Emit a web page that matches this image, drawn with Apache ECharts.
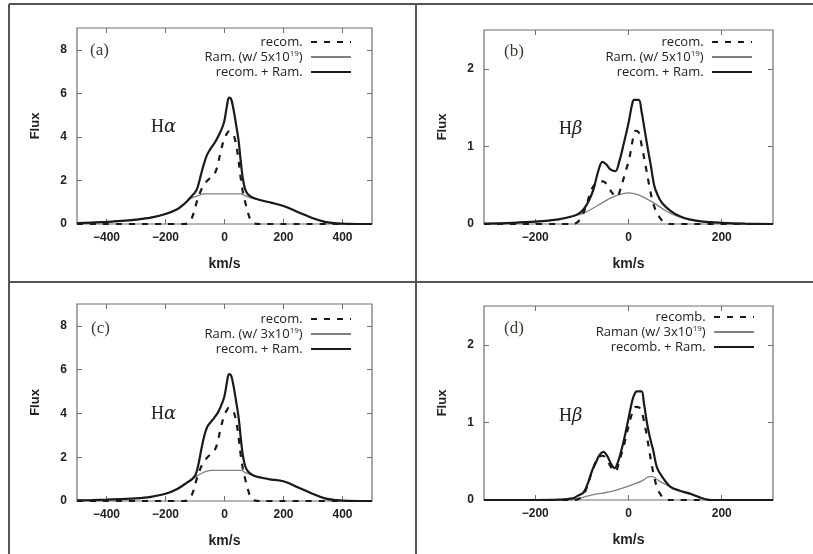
<!DOCTYPE html>
<html>
<head>
<meta charset="utf-8">
<script src="https://cdn.jsdelivr.net/npm/echarts@6/dist/echarts.min.js"></script>
<style>
  html, body { margin: 0; padding: 0; background: #fff; }
  #chart { width: 813px; height: 554px; }
</style>
</head>
<body>
<div id="chart"></div>
<script>
// Line-profile panels: recombination, Raman-scattered and combined flux vs velocity.
// Each array holds [velocity (km/s), flux] samples.

// (a) H-alpha, column 5x10^19
const recA = [[-500,0],[-140,0],[-126,0.02],[-110,0.3],[-92,1.1],[-78,1.6],[-64,1.9],[-50,2.1],[-36,2.26],[-25,2.6],[-15,3.2],[-2,3.87],[8,4.15],[15,4.25],[25,4.2],[32,4.05],[40,3.6],[47,3.0],[54,2.2],[62,1.5],[71,0.96],[80,0.5],[88,0.2],[100,0.03],[120,0],[500,0]];
const ramA = [[-500,0.04],[-450,0.06],[-400,0.1],[-350,0.14],[-300,0.2],[-250,0.29],[-200,0.46],[-160,0.68],[-140,0.88],[-126,1.08],[-110,1.2],[-90,1.3],[-70,1.38],[55,1.38],[70,1.3],[90,1.2],[120,1.1],[160,0.97],[200,0.83],[250,0.54],[300,0.26],[340,0.1],[380,0.03],[420,0.01],[500,0]];
const totA = [[-500,0.04],[-450,0.06],[-400,0.1],[-350,0.14],[-300,0.2],[-250,0.29],[-200,0.46],[-160,0.68],[-140,0.88],[-126,1.06],[-110,1.3],[-100,1.45],[-92,1.65],[-81,2.2],[-70,2.75],[-60,3.15],[-50,3.4],[-40,3.6],[-28,3.85],[-15,4.2],[-2,4.65],[8,5.4],[15,5.8],[22,5.75],[30,5.3],[40,4.5],[48,3.8],[55,2.9],[62,2.1],[70,1.6],[80,1.35],[95,1.22],[120,1.1],[160,0.97],[200,0.83],[250,0.54],[300,0.26],[340,0.1],[380,0.03],[420,0.01],[500,0]];

// (b) H-beta, column 5x10^19
const recB = [[-310,0],[-120,0],[-110,0.02],[-100,0.1],[-90,0.25],[-78,0.46],[-65,0.54],[-55,0.55],[-45,0.5],[-35,0.4],[-25,0.35],[-15,0.5],[-5,0.7],[2,0.85],[8,1.05],[15,1.2],[22,1.18],[28,1.02],[37,0.74],[45,0.48],[51,0.31],[58,0.18],[65,0.1],[75,0.03],[90,0],[310,0]];
const ramB = [[-310,0.005],[-250,0.015],[-200,0.03],[-150,0.06],[-120,0.1],[-100,0.13],[-80,0.19],[-60,0.26],[-40,0.33],[-20,0.38],[0,0.4],[20,0.38],[40,0.32],[60,0.25],[80,0.17],[100,0.11],[130,0.06],[160,0.03],[200,0.015],[250,0.005],[310,0]];
const totB = [[-310,0.005],[-250,0.015],[-200,0.03],[-150,0.06],[-120,0.1],[-105,0.14],[-95,0.2],[-85,0.3],[-75,0.45],[-65,0.68],[-56,0.8],[-48,0.77],[-38,0.7],[-28,0.68],[-20,0.8],[-10,1.04],[0,1.3],[8,1.55],[12,1.6],[22,1.6],[28,1.45],[35,1.2],[42,0.95],[48,0.75],[55,0.5],[62,0.38],[72,0.27],[90,0.17],[110,0.1],[130,0.06],[160,0.03],[200,0.015],[250,0.005],[310,0]];

// (c) H-alpha, column 3x10^19
const recC = [[-500,0],[-140,0],[-126,0.02],[-110,0.3],[-92,1.1],[-78,1.6],[-64,1.9],[-50,2.1],[-36,2.26],[-25,2.6],[-15,3.2],[-2,3.87],[8,4.15],[15,4.25],[25,4.2],[32,4.05],[40,3.6],[47,3.0],[54,2.2],[62,1.5],[71,0.96],[80,0.5],[88,0.2],[100,0.03],[120,0],[500,0]];
const ramC = [[-500,0.03],[-450,0.04],[-400,0.06],[-350,0.09],[-300,0.12],[-250,0.19],[-200,0.33],[-160,0.55],[-126,0.85],[-110,1.0],[-90,1.17],[-75,1.28],[-60,1.36],[-45,1.4],[55,1.4],[70,1.3],[100,1.15],[150,1.0],[200,0.9],[250,0.62],[300,0.32],[340,0.12],[380,0.04],[420,0.01],[500,0]];
const totC = [[-500,0.03],[-450,0.04],[-400,0.06],[-350,0.09],[-300,0.12],[-250,0.19],[-200,0.33],[-160,0.55],[-126,0.85],[-110,1.0],[-98,1.2],[-88,1.7],[-78,2.4],[-68,3.0],[-58,3.4],[-48,3.58],[-35,3.8],[-22,4.05],[-10,4.4],[0,4.8],[8,5.4],[15,5.8],[22,5.75],[30,5.3],[40,4.5],[48,3.8],[55,2.9],[62,2.1],[70,1.6],[80,1.35],[100,1.15],[150,1.0],[200,0.9],[250,0.62],[300,0.32],[340,0.12],[380,0.04],[420,0.01],[500,0]];

// (d) H-beta, column 3x10^19
const recD = [[-310,0],[-120,0],[-105,0.02],[-95,0.08],[-85,0.25],[-75,0.42],[-65,0.55],[-55,0.57],[-45,0.5],[-35,0.4],[-28,0.37],[-20,0.5],[-10,0.7],[0,0.95],[8,1.12],[16,1.2],[25,1.18],[32,1.05],[40,0.8],[45,0.62],[50,0.45],[55,0.3],[62,0.15],[70,0.06],[80,0.01],[90,0],[310,0]];
const ramD = [[-310,0],[-130,0],[-110,0.01],[-95,0.04],[-75,0.07],[-54,0.09],[-30,0.12],[-10,0.16],[10,0.2],[30,0.25],[45,0.3],[52,0.3],[60,0.27],[70,0.23],[90,0.17],[110,0.12],[130,0.08],[150,0.04],[165,0.01],[180,0],[310,0]];
const totD = [[-310,0],[-200,0],[-150,0.005],[-120,0.02],[-110,0.05],[-96,0.1],[-85,0.25],[-78,0.38],[-71,0.47],[-62,0.58],[-54,0.62],[-45,0.56],[-37,0.46],[-30,0.41],[-22,0.5],[-10,0.77],[0,1.05],[8,1.28],[14,1.38],[18,1.4],[28,1.4],[33,1.25],[40,0.98],[47,0.78],[53,0.64],[61,0.42],[72,0.3],[90,0.17],[110,0.12],[133,0.08],[150,0.04],[165,0.01],[180,0],[310,0]];

// Axis ranges and tick values
const alphaX = { min: -500, max: 500, ticks: [-400, -200, 0, 200, 400] };
const betaX = { min: -310, max: 310, ticks: [-200, 0, 200] };
const alphaY = { min: 0, max: 9, ticks: [0, 2, 4, 6, 8] };
const betaY = { min: 0, max: 2.5, ticks: [0, 1, 2] };

// Legend entries per panel
const namesA = ['recom.', 'Ram. (w/ 5x10{sup|19})', 'recom. + Ram.'];
const namesC = ['recom.', 'Ram. (w/ 3x10{sup|19})', 'recom. + Ram.'];
const namesD = ['recomb.', 'Raman (w/ 3x10{sup|19})', 'recomb. + Ram.'];

const panels = [
  { grid: { left: 77, top: 28, width: 295, height: 196 }, x: alphaX, y: alphaY,
    rec: recA, ram: ramA, tot: totA, names: namesA, legend: { right: 461, top: 35 },
    tag: '(a)', tagPos: [90, 52], line: 'α', linePos: [151, 128] },
  { grid: { left: 484, top: 30, width: 289, height: 194 }, x: betaX, y: betaY,
    rec: recB, ram: ramB, tot: totB, names: namesA, legend: { right: 60, top: 35 },
    tag: '(b)', tagPos: [504, 53], line: 'β', linePos: [559, 130] },
  { grid: { left: 77, top: 304, width: 295, height: 197 }, x: alphaX, y: alphaY,
    rec: recC, ram: ramC, tot: totC, names: namesC, legend: { right: 461, top: 312 },
    tag: '(c)', tagPos: [91, 330], line: 'α', linePos: [151, 415] },
  { grid: { left: 484, top: 306, width: 289, height: 194 }, x: betaX, y: betaY,
    rec: recD, ram: ramD, tot: totD, names: namesD, legend: { right: 58, top: 310 },
    tag: '(d)', tagPos: [504, 330], line: 'β', linePos: [559, 417] }
];

const FRAME = '#6f6f6f';
const INK = '#1a1a1a';
const tickFont = { color: '#222', fontSize: 12, fontWeight: 'bold', fontFamily: 'Liberation Sans' };
const minusFmt = v => (v < 0 ? '\u2212' + Math.abs(v) : String(v));

const grids = [], xAxes = [], yAxes = [], series = [], legends = [], graphics = [];

panels.forEach((p, i) => {
  grids.push(Object.assign({ show: true, borderColor: FRAME, borderWidth: 1.2, backgroundColor: '#fff' }, p.grid));

  const tickInside = (vals) => ({ show: true, inside: true, length: 5, customValues: vals, lineStyle: { color: FRAME, width: 1 } });
  const noLine = { show: false, onZero: false };

  xAxes.push({
    type: 'value', gridIndex: i, position: 'bottom', min: p.x.min, max: p.x.max,
    axisLine: noLine, splitLine: { show: false },
    axisTick: tickInside(p.x.ticks),
    axisLabel: Object.assign({ customValues: p.x.ticks, formatter: minusFmt, margin: 8 }, tickFont),
    name: 'km/s', nameLocation: 'middle', nameGap: 33,
    nameTextStyle: { color: '#222', fontSize: 14, fontWeight: 'bold', fontFamily: 'Liberation Sans' }
  });
  xAxes.push({
    type: 'value', gridIndex: i, position: 'top', min: p.x.min, max: p.x.max,
    axisLine: noLine, splitLine: { show: false },
    axisTick: tickInside(p.x.ticks), axisLabel: { show: false }
  });
  yAxes.push({
    type: 'value', gridIndex: i, position: 'left', min: p.y.min, max: p.y.max,
    axisLine: noLine, splitLine: { show: false },
    axisTick: tickInside(p.y.ticks),
    axisLabel: Object.assign({ customValues: p.y.ticks, margin: 10 }, tickFont),
    name: 'Flux', nameLocation: 'middle', nameGap: 35,
    nameTextStyle: { color: '#222', fontSize: 13, fontWeight: 'bold', fontFamily: 'Liberation Sans' }
  });
  yAxes.push({
    type: 'value', gridIndex: i, position: 'right', min: p.y.min, max: p.y.max,
    axisLine: noLine, splitLine: { show: false },
    axisTick: tickInside(p.y.ticks), axisLabel: { show: false }
  });

  const common = { type: 'line', xAxisIndex: 2 * i, yAxisIndex: 2 * i, symbol: 'none', smooth: 0.35, animation: false, silent: true };
  series.push(Object.assign({ name: p.names[0], data: p.rec, z: 3,
    itemStyle: { color: INK }, lineStyle: { color: INK, width: 2.2, type: [6, 7] } }, common));
  series.push(Object.assign({ name: p.names[1], data: p.ram, z: 2,
    itemStyle: { color: '#808080' }, lineStyle: { color: '#808080', width: 1.3 } }, common));
  series.push(Object.assign({ name: p.names[2], data: p.tot, z: 4,
    itemStyle: { color: INK }, lineStyle: { color: INK, width: 2.2 } }, common));

  legends.push({
    data: p.names, orient: 'vertical', align: 'right', right: p.legend.right, top: p.legend.top,
    itemWidth: 40, itemHeight: 14, itemGap: 1, padding: 0, selectedMode: false,
    itemStyle: { opacity: 0 },
    formatter: n => n + ' ',
    textStyle: {
      color: '#222', fontSize: 13, fontFamily: 'Open Sans', lineHeight: 14,
      rich: { sup: { fontSize: 8, fontFamily: 'Open Sans', color: '#222', verticalAlign: 'top', lineHeight: 9 } }
    }
  });

  graphics.push({
    type: 'text', left: p.tagPos[0], top: p.tagPos[1] - 10,
    style: { text: p.tag, fill: '#3b3b32', font: '17px "Liberation Serif"' }
  });
  graphics.push({
    type: 'text', left: p.linePos[0], top: p.linePos[1] - 10,
    style: {
      text: 'H{g|' + p.line + '}', fill: '#222', font: '18px "Liberation Serif"',
      rich: { g: { fontStyle: 'italic', fontSize: 18, fontFamily: 'DejaVu Serif', fill: '#222' } }
    }
  });
});

// Panel separators
const rule = { stroke: '#555', lineWidth: 2 };
graphics.push({ type: 'line', shape: { x1: 9, y1: 4, x2: 813, y2: 4 }, style: rule, z: 10 });
graphics.push({ type: 'line', shape: { x1: 9, y1: 4, x2: 9, y2: 554 }, style: rule, z: 10 });
graphics.push({ type: 'line', shape: { x1: 416, y1: 4, x2: 416, y2: 554 }, style: rule, z: 10 });
graphics.push({ type: 'line', shape: { x1: 9, y1: 282, x2: 813, y2: 282 }, style: rule, z: 10 });

const chart = echarts.init(document.getElementById('chart'), null, { renderer: 'canvas' });
chart.setOption({
  backgroundColor: '#fff',
  animation: false,
  grid: grids,
  xAxis: xAxes,
  yAxis: yAxes,
  legend: legends,
  series: series,
  graphic: graphics
});
</script>
</body>
</html>
